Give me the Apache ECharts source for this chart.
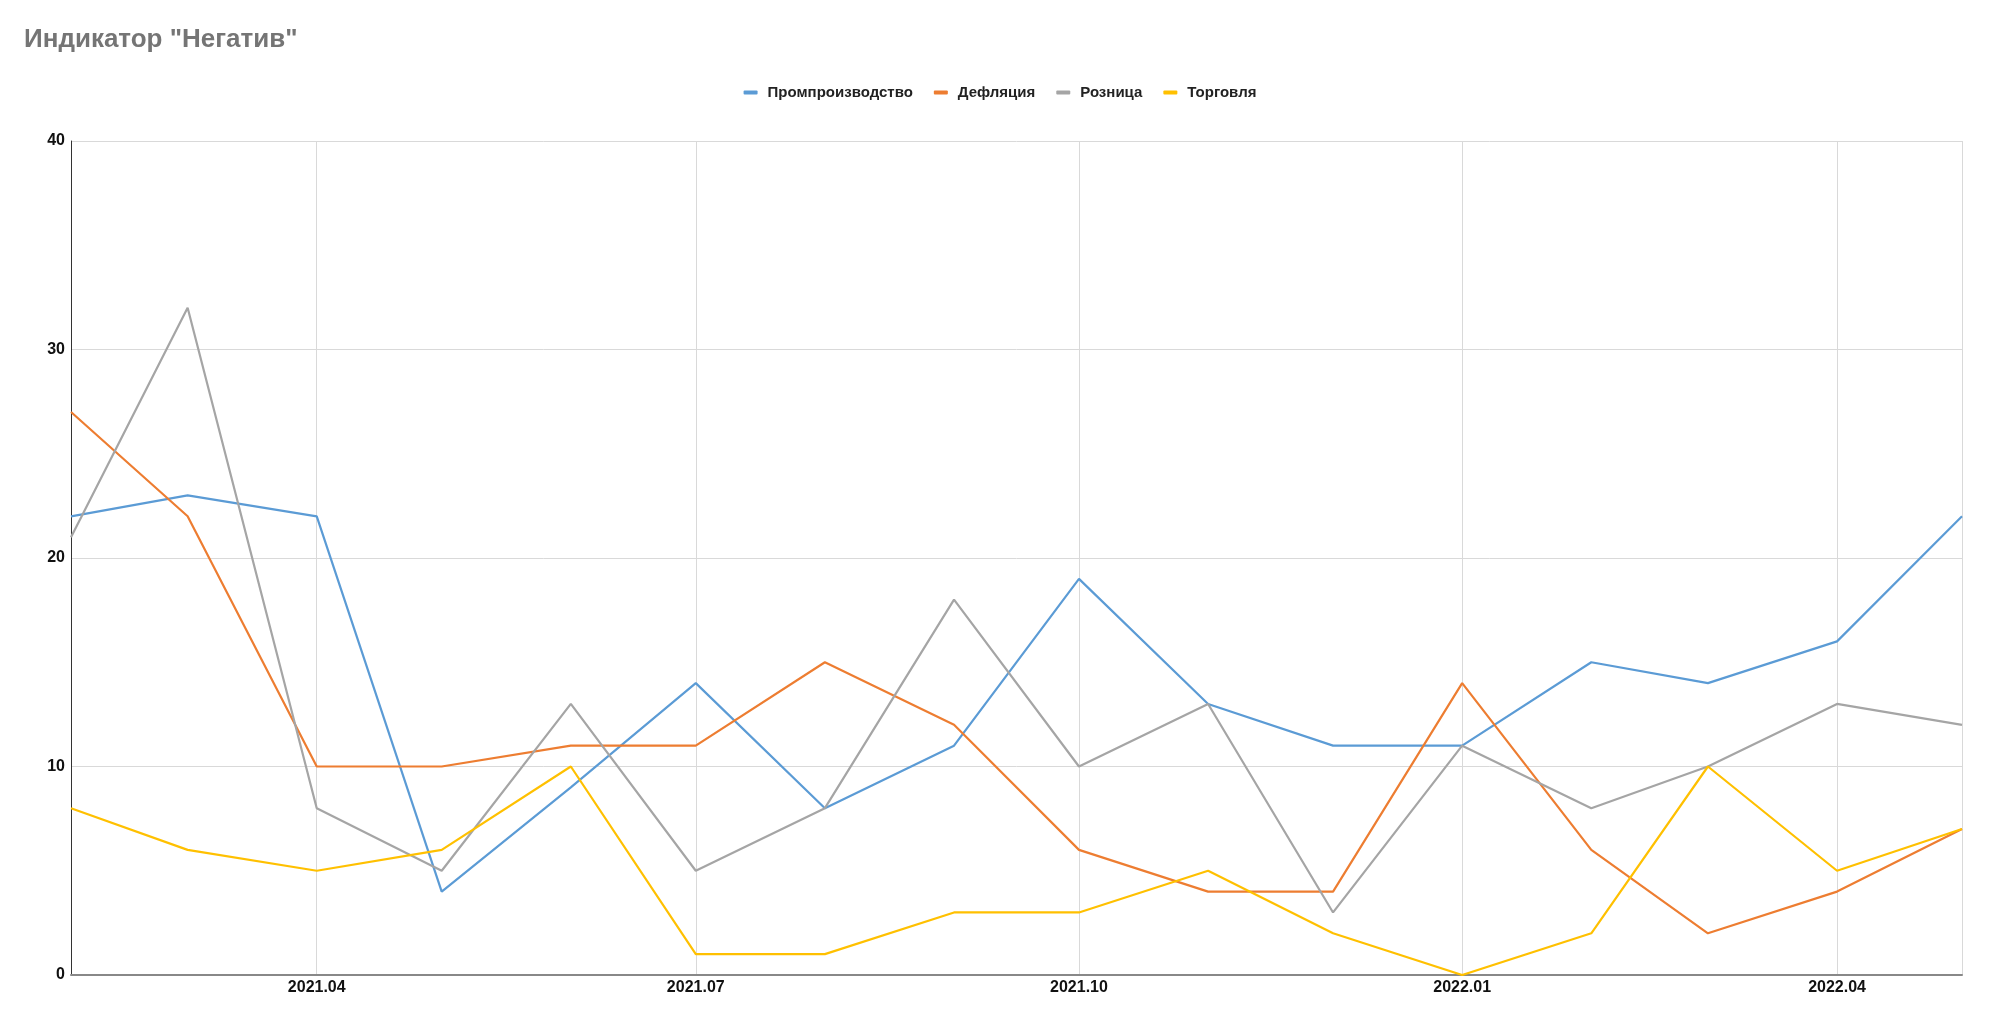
<!DOCTYPE html>
<html>
<head>
<meta charset="utf-8">
<script src="https://cdn.jsdelivr.net/npm/echarts@6/dist/echarts.min.js"></script>
<style>
html,body{margin:0;padding:0;background:#fff;}
#chart{width:2000px;height:1022px;}
</style>
</head>
<body>
<div id="chart"></div>
<script>
const months = ['2021-02-01','2021-03-01','2021-04-01','2021-05-01','2021-06-01','2021-07-01','2021-08-01','2021-09-01','2021-10-01','2021-11-01','2021-12-01','2022-01-01','2022-02-01','2022-03-01','2022-04-01','2022-05-01'];
const prom = [22, 23, 22, 4, 9, 14, 8, 11, 19, 13, 11, 11, 15, 14, 16, 22];
const defl = [27, 22, 10, 10, 11, 11, 15, 12, 6, 4, 4, 14, 6, 2, 4, 7];
const rozn = [21, 32, 8, 5, 13, 5, 8, 18, 10, 13, 3, 11, 8, 10, 13, 12];
const torg = [8, 6, 5, 6, 10, 1, 1, 3, 3, 5, 2, 0, 2, 10, 5, 7];
const seriesNames = ['Промпроизводство','Дефляция','Розница','Торговля'];
const colors = ['#5B9BD5','#ED7D31','#A5A5A5','#FFC000'];
const yTicks = [0, 10, 20, 30, 40];

const pair = arr => months.map((m, i) => [m, arr[i]]);
const Q = 91 * 86400000;
const chart = echarts.init(document.getElementById('chart'));
chart.setOption({
  animation: false,
  color: colors,
  title: {
    text: 'Индикатор "Негатив"',
    left: 19, top: 22,
    textStyle: {fontFamily: 'Liberation Sans', fontWeight: 'bold', fontSize: 26, color: '#757575'}
  },
  legend: {
    top: 80, left: 'center',
    itemWidth: 14, itemHeight: 4, itemGap: 21,
    icon: 'roundRect',
    textStyle: {fontFamily: 'Liberation Sans', fontWeight: 'bold', fontSize: 15, color: '#222', padding: [0, 0, 0, 5]},
    data: seriesNames
  },
  grid: {left: 71, right: 38, top: 141, bottom: 47, containLabel: false},
  xAxis: {
    type: 'time',
    min: months[0], max: months[months.length - 1],
    minInterval: Q, maxInterval: Q,
    axisLine: {lineStyle: {color: '#888', width: 2}},
    axisTick: {show: false},
    splitLine: {show: true, lineStyle: {color: '#d9d9d9', width: 1}},
    axisLabel: {
      formatter: '{yyyy}.{MM}',
      fontFamily: 'Liberation Sans', fontWeight: 'bold', fontSize: 16, color: '#111', margin: 5,
      showMinLabel: false, showMaxLabel: false
    }
  },
  yAxis: {
    type: 'value', min: yTicks[0], max: yTicks[yTicks.length - 1], interval: 10,
    axisLine: {show: true, lineStyle: {color: '#333', width: 1}},
    axisTick: {show: false},
    splitLine: {lineStyle: {color: '#d9d9d9', width: 1}},
    axisLabel: {fontFamily: 'Liberation Sans', fontWeight: 'bold', fontSize: 16, color: '#111', margin: 6}
  },
  series: [prom, defl, rozn, torg].map((arr, i) => ({
    name: seriesNames[i], type: 'line', data: pair(arr),
    symbol: 'none', lineStyle: {width: 2.2}
  }))
});
</script>
</body>
</html>
